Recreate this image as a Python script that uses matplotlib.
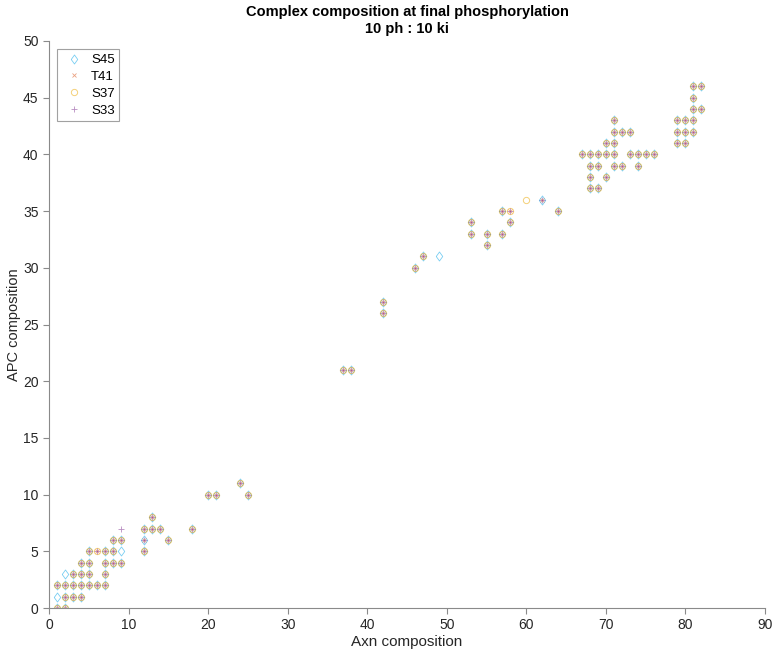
import matplotlib
matplotlib.use("Agg")
import matplotlib.pyplot as plt

plt.rcParams['font.family'] = ['Liberation Sans', 'DejaVu Sans']

# Points shared by all four series (x = Axn composition, y = APC composition)
common_x = [1, 2,
            2, 3, 4,
            1, 2, 3, 4, 5, 6, 7,
            3, 4, 5, 7,
            4, 5, 7, 8, 9,
            5, 7, 8, 12,
            8, 9, 15,
            12, 13, 14,
            13, 18,
            20, 21, 25, 24,
            37, 38, 42, 42, 46, 47,
            53, 53, 55, 55, 57, 57, 58, 64,
            67, 68, 69, 70, 71, 73, 74, 75, 76,
            68, 69, 71, 72, 74,
            68, 70, 68, 69,
            70, 71, 71, 72, 73, 71,
            79, 80, 81, 79, 80, 81, 79, 80,
            81, 82, 81, 81, 82]
common_y = [0, 0,
            1, 1, 1,
            2, 2, 2, 2, 2, 2, 2,
            3, 3, 3, 3,
            4, 4, 4, 4, 4,
            5, 5, 5, 5,
            6, 6, 6,
            7, 7, 7,
            8, 7,
            10, 10, 10, 11,
            21, 21, 26, 27, 30, 31,
            33, 34, 33, 32, 33, 35, 34, 35,
            40, 40, 40, 40, 40, 40, 40, 40, 40,
            39, 39, 39, 39, 39,
            38, 38, 37, 37,
            41, 41, 42, 42, 42, 43,
            43, 43, 43, 42, 42, 42, 41, 41,
            44, 44, 45, 46, 46]

# Points belonging to only some series
s45_extra_x = [1, 2, 9, 49, 12, 62]
s45_extra_y = [1, 3, 5, 31, 6, 36]
t41_extra_x = [6, 58, 12, 62]
t41_extra_y = [5, 35, 6, 36]
s37_extra_x = [6, 58, 60]
s37_extra_y = [5, 35, 36]
s33_extra_x = [6, 58, 9, 12, 62]
s33_extra_y = [5, 35, 7, 6, 36]

series = ['S45', 'T41', 'S37', 'S33']

fig = plt.figure(figsize=(7.72, 6.51), dpi=100)
ax = fig.add_axes([49/772, 1 - 608/651, (765 - 49)/772, (608 - 41)/651])

c_s45 = '#4DBEEE'
c_t41 = '#D95319'
c_s37 = '#EDB120'
c_s33 = '#7E2F8E'

diamond = [(-0.72, 0), (0, 1), (0.72, 0), (0, -1), (-0.72, 0)]

ax.plot(common_x + s45_extra_x, common_y + s45_extra_y, linestyle='none',
        marker=diamond, markersize=6.5, markerfacecolor='none', markeredgecolor=c_s45,
        markeredgewidth=0.6, alpha=0.75, label=series[0])
ax.plot(common_x + t41_extra_x, common_y + t41_extra_y, linestyle='none',
        marker='x', markersize=3.2, color=c_t41, markeredgewidth=0.6, alpha=0.55,
        label=series[1])
ax.plot(common_x + s37_extra_x, common_y + s37_extra_y, linestyle='none',
        marker='o', markersize=4.5, markerfacecolor='none', markeredgecolor=c_s37,
        markeredgewidth=0.7, alpha=0.6, label=series[2])
ax.plot(common_x + s33_extra_x, common_y + s33_extra_y, linestyle='none',
        marker='+', markersize=4.5, color=c_s33, markeredgewidth=0.6, alpha=0.55,
        label=series[3])

ax.set_xlim(0, 90)
ax.set_ylim(0, 50)
ax.set_xticks(range(0, 91, 10))
ax.set_yticks(range(0, 51, 5))
for s in ['top', 'right']:
    ax.spines[s].set_visible(False)
for s in ['left', 'bottom']:
    ax.spines[s].set_color('#8a8a8a')
    ax.spines[s].set_linewidth(0.8)
ax.tick_params(direction='out', length=4, width=0.8, color='#8a8a8a',
               labelsize=10, labelcolor='#262626')

ax.set_xlabel('Axn composition', fontsize=11, color='#262626', labelpad=2)
ax.set_ylabel('APC composition', fontsize=10.5, color='#262626', labelpad=2)
ax.yaxis.set_label_coords(-0.039, 0.5)
ax.set_title('Complex composition at final phosphorylation\n10 ph : 10 ki',
             fontsize=10.5, fontweight='bold', color='#000000', pad=6)

leg = ax.legend(loc='upper left', bbox_to_anchor=(0.008, 0.99), fontsize=9.5,
                frameon=True, fancybox=False, borderpad=0.35, handletextpad=0.4,
                labelspacing=0.35, handlelength=1.8, borderaxespad=0.2)
leg.get_frame().set_edgecolor('#8a8a8a')
leg.get_frame().set_linewidth(0.8)

fig.savefig('out.png', dpi=100)
